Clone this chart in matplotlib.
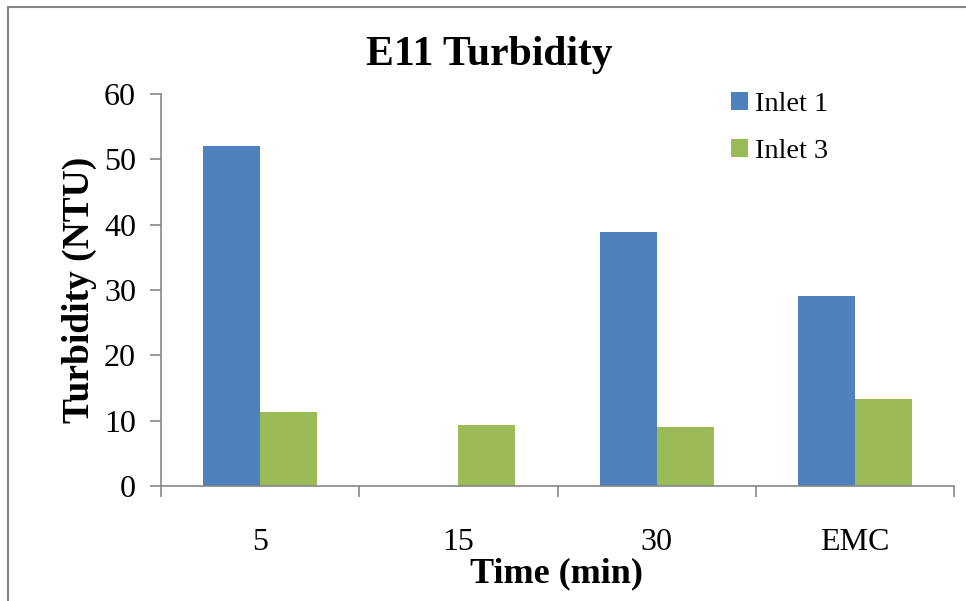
import numpy as np
import matplotlib.pyplot as plt
from matplotlib.patches import Rectangle

# =========================
# Data
# =========================
categories = ['5', '15', '30', 'EMC']
inlet1 = [52.1, 0.0, 38.9, 29.1]
inlet3 = [11.3, 9.4, 9.1, 13.3]

blue = '#4F81BD'
green = '#9BBB59'
axis_gray = '#868686'

plt.rcParams['font.family'] = ['Liberation Serif', 'DejaVu Serif']

fig = plt.figure(figsize=(9.66, 6.01), dpi=100)
ax = fig.add_axes([161 / 966, 1 - 486 / 601, (954 - 161) / 966, (486 - 94) / 601])

x = np.arange(len(categories))
w = 0.288
ax.bar(x - w / 2, inlet1, width=w, color=blue, label='Inlet 1')
ax.bar(x + w / 2, inlet3, width=w, color=green, label='Inlet 3')

ax.set_xlim(-0.5, len(categories) - 0.5)
ax.set_ylim(0, 60)
ax.set_yticks(range(0, 61, 10))

# category labels at centres, tick marks at boundaries
ax.set_xticks(x)
ax.set_xticklabels(categories, fontsize=23)
ax.set_xticks(np.arange(-0.5, len(categories)), minor=True)
ax.tick_params(axis='x', which='major', length=0, pad=30)
ax.tick_params(axis='x', which='minor', length=8, width=1.2, color=axis_gray)
ax.tick_params(axis='y', length=8, width=1.2, color=axis_gray, labelsize=23, pad=10)

for side in ['top', 'right']:
    ax.spines[side].set_visible(False)
for side in ['left', 'bottom']:
    ax.spines[side].set_color(axis_gray)
    ax.spines[side].set_linewidth(1.2)

fig.text(489 / 966, 1 - 55 / 601, 'E11 Turbidity', ha='center', va='center',
         fontsize=30, fontweight='bold')
fig.text(79 / 966, 1 - 290 / 601, 'Turbidity (NTU)', ha='center', va='center',
         rotation=90, fontsize=27, fontweight='bold')
fig.text(557 / 966, 1 - 574 / 601, 'Time (min)', ha='center', va='center',
         fontsize=26, fontweight='bold')

ax.legend(loc='upper left', bbox_to_anchor=(717 / 966, 1 - 78 / 601),
          bbox_transform=fig.transFigure, frameon=False, fontsize=20.5,
          handlelength=0.6, handleheight=0.6, handletextpad=0.25,
          labelspacing=0.75, borderpad=0)

# chart frame
fig.patches.append(Rectangle((8 / 966, -0.1), 1.2, 1 - 7 / 601 + 0.1,
                             transform=fig.transFigure, fill=False,
                             edgecolor=axis_gray, linewidth=1.5))

plt.savefig('out.png', dpi=100)
plt.close()
